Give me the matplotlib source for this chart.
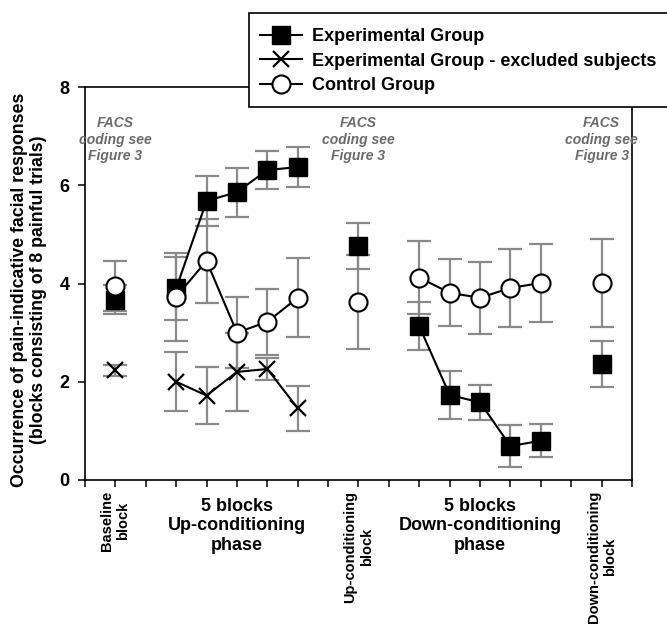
import matplotlib
matplotlib.use("Agg")
import matplotlib.pyplot as plt
from matplotlib.patches import Rectangle

plt.rcParams['font.family'] = ['Liberation Sans', 'DejaVu Sans']

# ---- data ----
baseline_x = [1]
up_x = [3, 4, 5, 6, 7]
upblock_x = [9]
down_x = [11, 12, 13, 14, 15]
downblock_x = [17]

exp_baseline = [3.67]; exp_baseline_err = [0.30]
exp_up = [3.90, 5.68, 5.86, 6.31, 6.37]; exp_up_err = [0.64, 0.50, 0.50, 0.38, 0.40]
exp_upblock = [4.76]; exp_upblock_err = [0.47]
exp_down = [3.13, 1.73, 1.58, 0.69, 0.80]; exp_down_err = [0.49, 0.48, 0.35, 0.42, 0.33]
exp_downblock = [2.36]; exp_downblock_err = [0.47]

ctl_baseline = [3.95]; ctl_baseline_err = [0.50]
ctl_up = [3.73, 4.46, 3.00, 3.22, 3.71]; ctl_up_err = [0.90, 0.85, 0.72, 0.67, 0.80]
ctl_upblock = [3.62]; ctl_upblock_err = [0.95]
ctl_down = [4.12, 3.81, 3.71, 3.91, 4.01]; ctl_down_err = [0.75, 0.68, 0.73, 0.80, 0.79]
ctl_downblock = [4.01]; ctl_downblock_err = [0.90]

exc_baseline = [2.23]; exc_baseline_err = [0.12]
exc_up = [2.00, 1.72, 2.20, 2.26, 1.46]; exc_up_err = [0.60, 0.58, 0.79, 0.22, 0.46]

rot_labels = ["Baseline\nblock", "Up-conditioning\nblock", "Down-conditioning\nblock"]
rot_label_x = [1, 9, 17]
phase_labels = ["5 blocks\nUp-conditioning\nphase", "5 blocks\nDown-conditioning\nphase"]
phase_label_x = [5, 13]
facs_text = "FACS\ncoding see\nFigure 3"
facs_x = [1, 9, 17]
facs_y = 6.93
yticks = [0, 2, 4, 6, 8]
legend_labels = ["Experimental Group", "Experimental Group - excluded subjects", "Control Group"]

# ---- figure ----
W, H = 667, 625
fig = plt.figure(figsize=(W / 100, H / 100), dpi=100)
ax = fig.add_axes([85 / W, 1 - 480 / H, (632 - 85) / W, (480 - 87) / H])
ax.set_xlim(0, 18)
ax.set_ylim(0, 8)

ecol = '#8a8a8a'
ekw = dict(fmt='none', ecolor=ecol, elinewidth=1.6, capsize=8.5, capthick=1.6, zorder=2)

def eb(x, y, e):
    ax.errorbar(x, y, yerr=e, **ekw)

for x, y, e in [(baseline_x, exp_baseline, exp_baseline_err), (up_x, exp_up, exp_up_err),
                (upblock_x, exp_upblock, exp_upblock_err), (down_x, exp_down, exp_down_err),
                (downblock_x, exp_downblock, exp_downblock_err),
                (baseline_x, ctl_baseline, ctl_baseline_err), (up_x, ctl_up, ctl_up_err),
                (upblock_x, ctl_upblock, ctl_upblock_err), (down_x, ctl_down, ctl_down_err),
                (downblock_x, ctl_downblock, ctl_downblock_err),
                (baseline_x, exc_baseline, exc_baseline_err), (up_x, exc_up, exc_up_err)]:
    eb(x, y, e)

sq = dict(color='black', marker='s', ms=12.5, mfc='black', mec='black', lw=1.5, zorder=3)
cx = dict(color='black', marker='x', ms=11, mew=1.6, lw=1.5, zorder=3)
ci = dict(color='black', marker='o', ms=13, mfc='white', mec='black', mew=1.5, lw=1.5, zorder=4)

h_exp, = ax.plot(up_x, exp_up, **sq)
for x, y in [(baseline_x, exp_baseline), (upblock_x, exp_upblock), (down_x, exp_down),
             (downblock_x, exp_downblock)]:
    ax.plot(x, y, **sq)
h_exc, = ax.plot(up_x, exc_up, **cx)
ax.plot(baseline_x, exc_baseline, **cx)
h_ctl, = ax.plot(up_x, ctl_up, **ci)
for x, y in [(baseline_x, ctl_baseline), (upblock_x, ctl_upblock), (down_x, ctl_down),
             (downblock_x, ctl_downblock)]:
    ax.plot(x, y, **ci)

# axes styling
for s in ax.spines.values():
    s.set_linewidth(1.2)
ax.set_xticks(range(0, 19))
ax.set_xticklabels([])
ax.set_yticks(yticks)
ax.set_yticklabels([str(t) for t in yticks], fontsize=13, fontweight='bold')
ax.tick_params(direction='out', length=5, width=1.1, pad=6)
ax.tick_params(axis='x', length=5)
light = {2, 8, 10, 16}
for t, loc in zip(ax.xaxis.get_major_ticks(), range(0, 19)):
    if loc in light:
        t.tick1line.set_color('#d0d0d0')

# FACS notes
for x in facs_x:
    ax.text(x, facs_y, facs_text, ha='center', va='center', fontsize=10, style='italic',
            fontweight='bold', color='#6a6a6a', linespacing=1.25)

# x labels
for x, lab in zip(rot_label_x, rot_labels):
    ax.text(x, -0.22, lab, rotation=90, ha='center', va='top', fontsize=10.5,
            fontweight='bold', multialignment='center', linespacing=1.2, clip_on=False)
for x, lab in zip(phase_label_x, phase_labels):
    ax.text(x, -0.36, lab, ha='center', va='top', fontsize=13, fontweight='bold',
            multialignment='center', linespacing=1.2, clip_on=False)

# y label
fig.text(29 / W, 1 - 290 / H,
         "Occurrence of pain-indicative facial responses\n(blocks consisting of 8 painful trials)",
         rotation=90, ha='center', va='center', fontsize=12.8, fontweight='bold',
         multialignment='center', linespacing=1.15)

# legend box
rect = Rectangle((249 / W, 1 - 107 / H), 0.8, 94 / H, transform=fig.transFigure,
                 facecolor='white', edgecolor='black', lw=1.2, zorder=10, clip_on=False)
fig.add_artist(rect)
leg = fig.legend([h_exp, h_exc, h_ctl], legend_labels, loc='upper left',
                 bbox_to_anchor=(260 / W, 1 - 28 / H), frameon=False,
                 prop={'weight': 'bold', 'size': 13}, handlelength=2.3,
                 handletextpad=0.6, labelspacing=0.42, borderpad=0, borderaxespad=0)
leg.set_zorder(11)

fig.savefig("out.png", dpi=100)
